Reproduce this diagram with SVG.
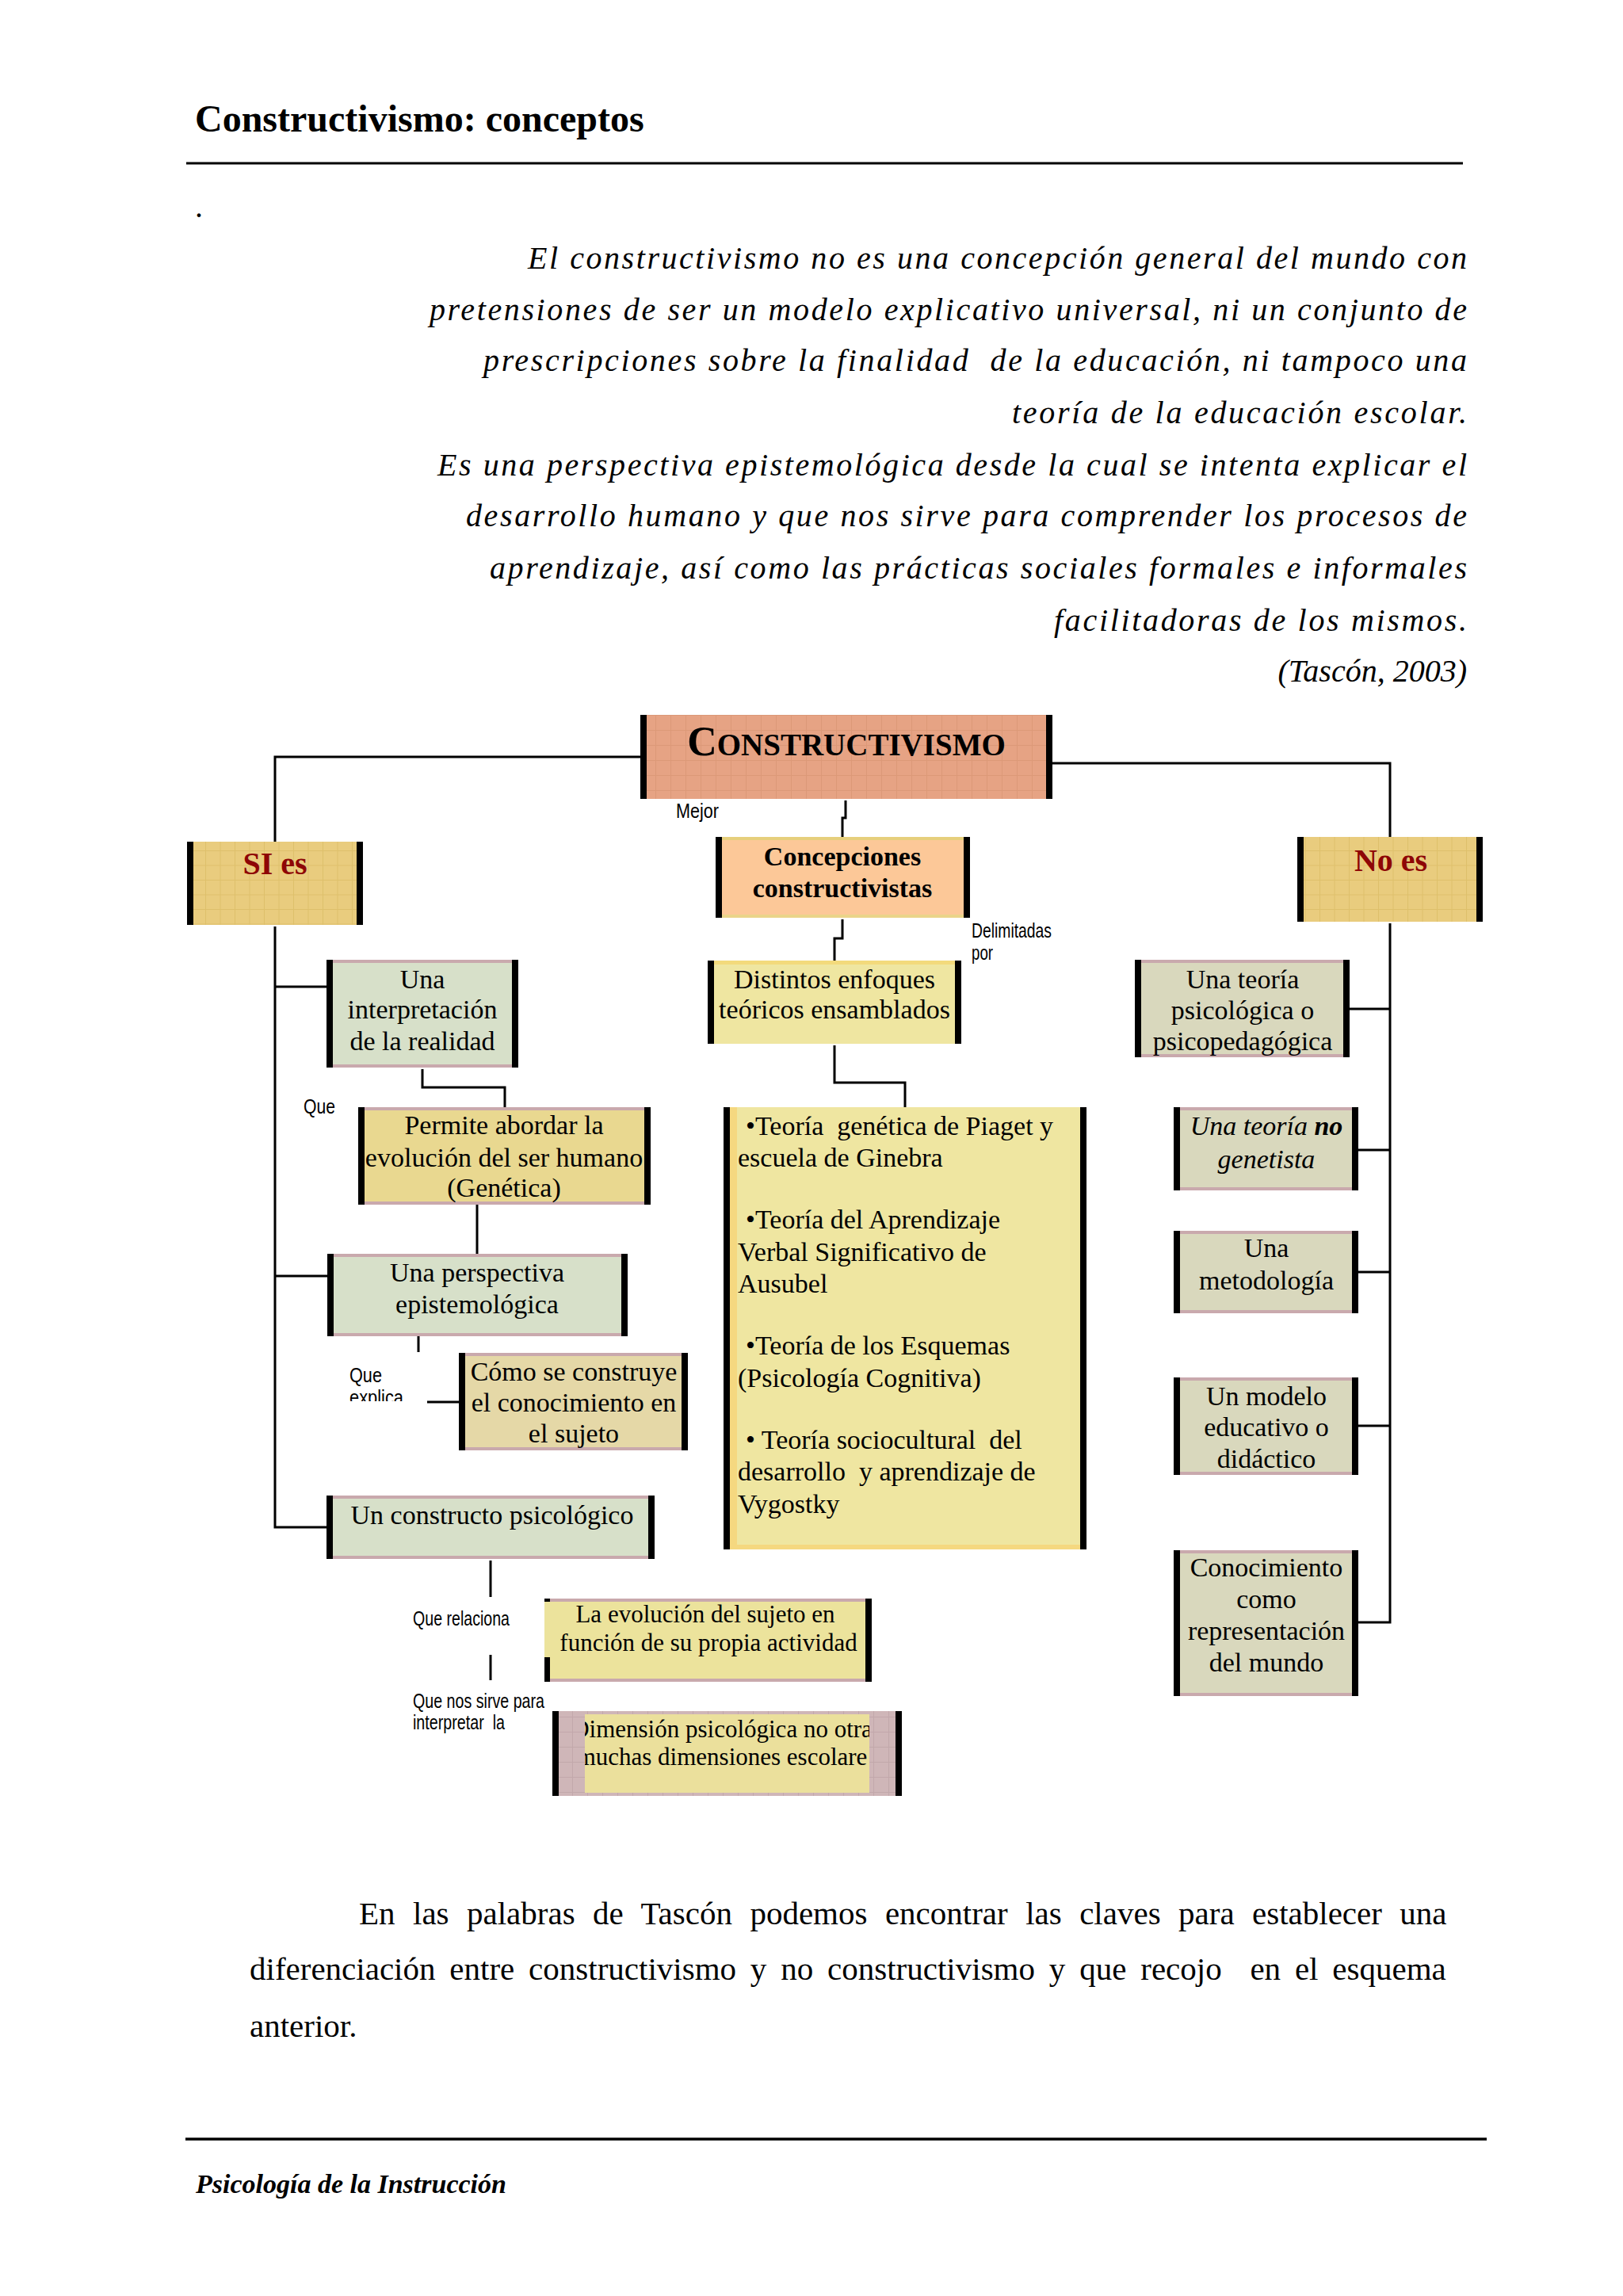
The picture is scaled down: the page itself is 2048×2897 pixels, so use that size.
<svg xmlns="http://www.w3.org/2000/svg" width="2048" height="2897" viewBox="0 0 2048 2897">
<style>
text{font-family:"Liberation Serif","Times New Roman",serif;fill:#000}
.t34{font-size:34px;text-anchor:middle}
.th{font-size:34px}
.pre{white-space:pre}
.lbl{font-family:"Liberation Sans Narrow","Liberation Sans",Arial,sans-serif;font-size:25px}
.q{font-size:40px;font-style:italic}
.para{font-size:41px}
.bar{fill:#000}
.strip{fill:#c9a9ad}
.green{fill:#d7e0c9}
.khaki{fill:#d9d8bd}
.conn{fill:none;stroke:#000;stroke-width:3}
.rule{stroke:#000;stroke-width:3}
.red{fill:#8e0606;font-size:40px;font-weight:bold;text-anchor:middle}
</style>
<defs>
<pattern id="gSalmon" width="19" height="19" patternUnits="userSpaceOnUse" x="808" y="902">
<rect width="19" height="19" fill="#e6a384"/>
<path d="M0 0.5H19M0.5 0V19" stroke="#d48f6c" stroke-width="1" opacity="0.55"/>
</pattern>
<pattern id="gYellow" width="18.5" height="18.5" patternUnits="userSpaceOnUse">
<rect width="18.5" height="18.5" fill="#e9cc7e"/>
<path d="M0 0.5H18.5M0.5 0V18.5" stroke="#d5b65a" stroke-width="1" opacity="0.55"/>
</pattern>
<pattern id="gMauve" width="19" height="19" patternUnits="userSpaceOnUse">
<rect width="19" height="19" fill="#cfb6b8"/>
<path d="M0 0.5H19M0.5 0V19" stroke="#b99ea1" stroke-width="1" opacity="0.6"/>
</pattern>
<clipPath id="clipExplica"><rect x="430" y="1700" width="120" height="68"/></clipPath>
<clipPath id="clipComo"><rect x="586" y="1707" width="275" height="121"/></clipPath>
<clipPath id="clipDim"><rect x="738" y="2163" width="359" height="99"/></clipPath>
</defs>
<rect width="2048" height="2897" fill="#ffffff"/>

<!-- page header -->
<g id="header">
<text x="246" y="166" font-size="48" font-weight="bold">Constructivismo: conceptos</text>
<line class="rule" x1="235" y1="206" x2="1846" y2="206"/>
<text x="246" y="274" font-size="40">.</text>
</g>

<g id="quote">
<text class="q" x="666" y="339" textLength="1185" lengthAdjust="spacing">El constructivismo no es una concepción general del mundo con</text>
<text class="q" x="542" y="404" textLength="1309" lengthAdjust="spacing">pretensiones de ser un modelo explicativo universal, ni un conjunto de</text>
<text class="q pre" x="610" y="468" textLength="1241" lengthAdjust="spacing">prescripciones sobre la finalidad  de la educación, ni tampoco una</text>
<text class="q" x="1277" y="534" textLength="574" lengthAdjust="spacing">teoría de la educación escolar.</text>
<text class="q" x="552" y="600" textLength="1299" lengthAdjust="spacing">Es una perspectiva epistemológica desde la cual se intenta explicar el</text>
<text class="q" x="588" y="664" textLength="1263" lengthAdjust="spacing">desarrollo humano y que nos sirve para comprender los procesos de</text>
<text class="q" x="618" y="730" textLength="1233" lengthAdjust="spacing">aprendizaje, así como las prácticas sociales formales e informales</text>
<text class="q" x="1330" y="796" textLength="521" lengthAdjust="spacing">facilitadoras de los mismos.</text>
<text class="q" x="1851" y="860" text-anchor="end" font-size="42.5">(Tascón, 2003)</text>
</g>

<!-- connectors -->
<g id="connectors">
<path class="conn" d="M808,955 H347 V1062"/>
<path class="conn" d="M1328,963 H1754 V1056"/>
<path class="conn" d="M1067,1010 V1032 H1063 V1056"/>
<path class="conn" d="M1063,1160 V1184 H1053 V1212"/>
<path class="conn" d="M1053,1319 V1366 H1142 V1397"/>
<path class="conn" d="M347,1169 V1927 H412"/>
<path class="conn" d="M347,1245 H412"/>
<path class="conn" d="M347,1610 H413"/>
<path class="conn" d="M533,1349 V1372 H637 V1397"/>
<path class="conn" d="M602,1520 V1582"/>
<path class="conn" d="M528,1686 V1706"/>
<path class="conn" d="M539,1769 H579"/>
<path class="conn" d="M619,1969 V2015"/>
<path class="conn" d="M619,2088 V2120"/>
<path class="conn" d="M1754,1165 V2047 H1714"/>
<path class="conn" d="M1703,1273 H1754"/>
<path class="conn" d="M1714,1451 H1754"/>
<path class="conn" d="M1714,1605 H1754"/>
<path class="conn" d="M1714,1799 H1754"/>
</g>

<g id="connector-labels">
<text class="lbl" x="853" y="1032" textLength="54" lengthAdjust="spacingAndGlyphs">Mejor</text>
<text class="lbl" x="1226" y="1183" textLength="101" lengthAdjust="spacingAndGlyphs">Delimitadas</text>
<text class="lbl" x="1226" y="1211" textLength="27" lengthAdjust="spacingAndGlyphs">por</text>
<text class="lbl" x="383" y="1405" textLength="40" lengthAdjust="spacingAndGlyphs">Que</text>
<text class="lbl" x="441" y="1744" textLength="41" lengthAdjust="spacingAndGlyphs">Que</text>
<text class="lbl" x="441" y="1772" textLength="68" lengthAdjust="spacingAndGlyphs" clip-path="url(#clipExplica)">explica</text>
<text class="lbl" x="521" y="2051" textLength="122" lengthAdjust="spacingAndGlyphs">Que relaciona</text>
<text class="lbl" x="521" y="2155" textLength="166" lengthAdjust="spacingAndGlyphs">Que nos sirve para</text>
<text class="lbl pre" x="521" y="2182" textLength="116" lengthAdjust="spacingAndGlyphs">interpretar  la</text>
</g>

<!-- nodes -->
<g id="n-constructivismo">
<rect x="808" y="902" width="520" height="106" fill="url(#gSalmon)"/>
<rect class="bar" x="808" y="902" width="8" height="106"/>
<rect class="bar" x="1320" y="902" width="8" height="106"/>
<text x="1068" y="953" text-anchor="middle" font-weight="bold"><tspan font-size="52">C</tspan><tspan font-size="39">ONSTRUCTIVISMO</tspan></text>
</g>

<g id="n-si-es">
<rect x="236" y="1062" width="222" height="105" fill="url(#gYellow)"/>
<rect class="bar" x="236" y="1062" width="8" height="105"/>
<rect class="bar" x="450" y="1062" width="8" height="105"/>
<text class="red" x="347" y="1103">SI es</text>
</g>

<g id="n-no-es">
<rect x="1637" y="1056" width="234" height="107" fill="url(#gYellow)"/>
<rect class="bar" x="1637" y="1056" width="8" height="107"/>
<rect class="bar" x="1863" y="1056" width="8" height="107"/>
<text class="red" x="1755" y="1099">No es</text>
</g>

<g id="n-concepciones">
<rect x="903" y="1056" width="321" height="102" fill="#fcc898"/>
<rect x="903" y="1056" width="321" height="4" fill="#e6cf7c"/>
<rect x="903" y="1154" width="321" height="4" fill="#ead48a"/>
<rect class="bar" x="903" y="1056" width="8" height="102"/>
<rect class="bar" x="1216" y="1056" width="8" height="102"/>
<text class="t34" x="1063" y="1092" font-weight="bold">Concepciones</text>
<text class="t34" x="1063" y="1132" font-weight="bold">constructivistas</text>
</g>

<g id="n-distintos">
<rect x="893" y="1212" width="320" height="105" fill="#efe6a1"/>
<rect x="893" y="1212" width="320" height="5" fill="#f3da7c"/>
<rect class="bar" x="893" y="1212" width="8" height="105"/>
<rect class="bar" x="1205" y="1212" width="8" height="105"/>
<text class="t34" x="1053" y="1247">Distintos enfoques</text>
<text class="t34" x="1053" y="1285">teóricos ensamblados</text>
</g>

<g id="n-teorias">
<rect x="913" y="1397" width="458" height="558" fill="#efe6a1"/>
<rect x="920" y="1397" width="10" height="558" fill="#f5d880"/>
<rect x="913" y="1949" width="458" height="6" fill="#f5d880"/>
<rect class="bar" x="913" y="1397" width="8" height="558"/>
<rect class="bar" x="1363" y="1397" width="8" height="558"/>
<text class="th pre" x="941" y="1432">•Teoría  genética de Piaget y</text>
<text class="th" x="931" y="1472">escuela de Ginebra</text>
<text class="th" x="941" y="1550">•Teoría del Aprendizaje</text>
<text class="th" x="931" y="1591">Verbal Significativo de</text>
<text class="th" x="931" y="1631">Ausubel</text>
<text class="th" x="941" y="1709">•Teoría de los Esquemas</text>
<text class="th" x="931" y="1750">(Psicología Cognitiva)</text>
<text class="th pre" x="941" y="1828">• Teoría sociocultural  del</text>
<text class="th pre" x="931" y="1868">desarrollo  y aprendizaje de</text>
<text class="th" x="931" y="1909">Vygostky</text>
</g>

<g id="n-interpretacion">
<rect class="green" x="412" y="1211" width="242" height="136"/>
<rect class="strip" x="412" y="1211" width="242" height="4"/>
<rect class="strip" x="412" y="1343" width="242" height="4"/>
<rect class="bar" x="412" y="1211" width="8" height="136"/>
<rect class="bar" x="646" y="1211" width="8" height="136"/>
<text class="t34" x="533" y="1247">Una</text>
<text class="t34" x="533" y="1285">interpretación</text>
<text class="t34" x="533" y="1325">de la realidad</text>
</g>

<g id="n-permite">
<rect x="452" y="1397" width="369" height="123" fill="#e9d890"/>
<rect class="strip" x="452" y="1397" width="369" height="4"/>
<rect class="strip" x="452" y="1516" width="369" height="4"/>
<rect class="bar" x="452" y="1397" width="8" height="123"/>
<rect class="bar" x="813" y="1397" width="8" height="123"/>
<text class="t34" x="636" y="1431">Permite abordar la</text>
<text class="t34" x="636" y="1472">evolución del ser humano</text>
<text class="t34" x="636" y="1510">(Genética)</text>
</g>

<g id="n-perspectiva">
<rect class="green" x="413" y="1582" width="379" height="104"/>
<rect class="strip" x="413" y="1582" width="379" height="4"/>
<rect class="strip" x="413" y="1682" width="379" height="4"/>
<rect class="bar" x="413" y="1582" width="8" height="104"/>
<rect class="bar" x="784" y="1582" width="8" height="104"/>
<text class="t34" x="602" y="1617">Una perspectiva</text>
<text class="t34" x="602" y="1657">epistemológica</text>
</g>

<g id="n-como">
<rect x="579" y="1707" width="289" height="123" fill="#e5d8a7"/>
<rect class="strip" x="579" y="1707" width="289" height="4"/>
<rect class="strip" x="579" y="1826" width="289" height="4"/>
<rect class="bar" x="579" y="1707" width="8" height="123"/>
<rect class="bar" x="860" y="1707" width="8" height="123"/>
<g clip-path="url(#clipComo)">
<text class="t34" x="724" y="1742">Cómo se construye</text>
<text class="t34" x="724" y="1781">el conocimiento en</text>
<text class="t34" x="724" y="1820">el sujeto</text>
</g>
</g>

<g id="n-constructo">
<rect class="green" x="412" y="1887" width="414" height="80"/>
<rect class="strip" x="412" y="1887" width="414" height="4"/>
<rect class="strip" x="412" y="1963" width="414" height="4"/>
<rect class="bar" x="412" y="1887" width="8" height="80"/>
<rect class="bar" x="818" y="1887" width="8" height="80"/>
<text class="t34" x="621" y="1923">Un constructo psicológico</text>
</g>

<g id="n-evolucion">
<rect x="687" y="2017" width="413" height="105" fill="#ece39c"/>
<rect class="strip" x="687" y="2017" width="413" height="4"/>
<rect class="strip" x="687" y="2118" width="413" height="4"/>
<rect class="bar" x="687" y="2017" width="7" height="4"/>
<rect class="bar" x="687" y="2091" width="7" height="31"/>
<rect class="bar" x="1092" y="2017" width="8" height="105"/>
<text x="890" y="2047" font-size="31" text-anchor="middle">La evolución del sujeto en</text>
<text x="894" y="2083" font-size="31" text-anchor="middle">función de su propia actividad</text>
</g>

<g id="n-dimension">
<rect x="697" y="2159" width="441" height="107" fill="url(#gMauve)"/>
<rect x="738" y="2163" width="359" height="99" fill="#ebe09c"/>
<rect class="bar" x="697" y="2159" width="8" height="107"/>
<rect class="bar" x="1130" y="2159" width="8" height="107"/>
<g clip-path="url(#clipDim)">
<text x="911" y="2192" font-size="31" text-anchor="middle">Dimensión psicológica no otra</text>
<text x="911" y="2227" font-size="31" text-anchor="middle">muchas dimensiones escolare</text>
</g>
</g>

<g id="n-psicologica">
<rect class="khaki" x="1432" y="1211" width="271" height="123"/>
<rect class="strip" x="1432" y="1211" width="271" height="4"/>
<rect class="strip" x="1432" y="1330" width="271" height="4"/>
<rect class="bar" x="1432" y="1211" width="8" height="123"/>
<rect class="bar" x="1695" y="1211" width="8" height="123"/>
<text class="t34" x="1568" y="1247">Una teoría</text>
<text class="t34" x="1568" y="1286">psicológica o</text>
<text class="t34" x="1568" y="1325">psicopedagógica</text>
</g>

<g id="n-no-genetista">
<rect class="khaki" x="1481" y="1397" width="233" height="105"/>
<rect class="strip" x="1481" y="1397" width="233" height="4"/>
<rect class="strip" x="1481" y="1498" width="233" height="4"/>
<rect class="bar" x="1481" y="1397" width="8" height="105"/>
<rect class="bar" x="1706" y="1397" width="8" height="105"/>
<text class="t34" x="1598" y="1432" font-style="italic">Una teoría <tspan font-weight="bold">no</tspan></text>
<text class="t34" x="1598" y="1474" font-style="italic">genetista</text>
</g>

<g id="n-metodologia">
<rect class="khaki" x="1481" y="1553" width="233" height="104"/>
<rect class="strip" x="1481" y="1553" width="233" height="4"/>
<rect class="strip" x="1481" y="1653" width="233" height="4"/>
<rect class="bar" x="1481" y="1553" width="8" height="104"/>
<rect class="bar" x="1706" y="1553" width="8" height="104"/>
<text class="t34" x="1598" y="1586">Una</text>
<text class="t34" x="1598" y="1627">metodología</text>
</g>

<g id="n-modelo">
<rect class="khaki" x="1481" y="1738" width="233" height="123"/>
<rect class="strip" x="1481" y="1738" width="233" height="4"/>
<rect class="strip" x="1481" y="1857" width="233" height="4"/>
<rect class="bar" x="1481" y="1738" width="8" height="123"/>
<rect class="bar" x="1706" y="1738" width="8" height="123"/>
<text class="t34" x="1598" y="1773">Un modelo</text>
<text class="t34" x="1598" y="1812">educativo o</text>
<text class="t34" x="1598" y="1852">didáctico</text>
</g>

<g id="n-conocimiento">
<rect class="khaki" x="1481" y="1956" width="233" height="184"/>
<rect class="strip" x="1481" y="1956" width="233" height="4"/>
<rect class="strip" x="1481" y="2136" width="233" height="4"/>
<rect class="bar" x="1481" y="1956" width="8" height="184"/>
<rect class="bar" x="1706" y="1956" width="8" height="184"/>
<text class="t34" x="1598" y="1989">Conocimiento</text>
<text class="t34" x="1598" y="2029">como</text>
<text class="t34" x="1598" y="2069">representación</text>
<text class="t34" x="1598" y="2109">del mundo</text>
</g>

<!-- closing paragraph -->
<g id="paragraph">
<text class="para" x="453" y="2428" word-spacing="12.2">En las palabras de Tascón podemos encontrar las claves para establecer una</text>
<text class="para pre" x="315" y="2498" word-spacing="7.6">diferenciación entre constructivismo y no constructivismo y que recojo  en el esquema</text>
<text class="para" x="315" y="2570">anterior.</text>
</g>

<g id="footer">
<line x1="234" y1="2699" x2="1876" y2="2699" stroke="#000" stroke-width="3.5"/>
<text x="247" y="2767" font-size="34" font-weight="bold" font-style="italic">Psicología de la Instrucción</text>
</g>
</svg>
